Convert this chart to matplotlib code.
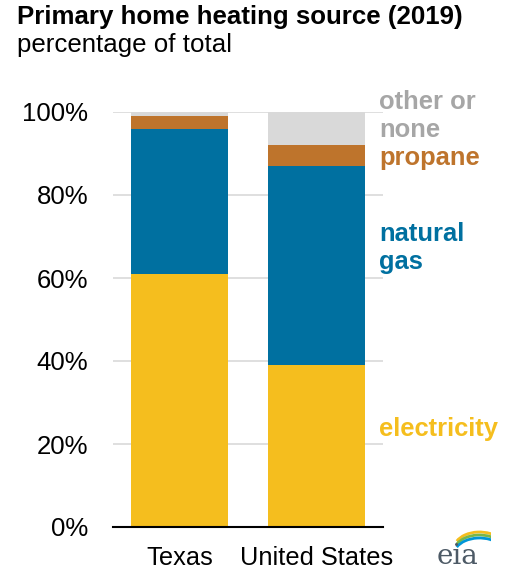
import matplotlib.pyplot as plt
from matplotlib.patches import Arc
import numpy as np

plt.rcParams["font.family"] = ["Liberation Sans", "DejaVu Sans"]

## Values (percent of homes)
regions = ["Texas", "United States"]
electricity = [61, 39]
natural_gas = [35, 48]
propane = [3, 5]
other_none = [1, 8]

series_names = ["electricity", "natural\ngas", "propane", "other or\nnone"]
series_colors = ["#F5BE1E", "#0070A0", "#BE742C", "#D9D9D9"]
label_colors = ["#F5BE1E", "#0070A0", "#BE742C", "#A6A6A6"]
yticks = [0, 20, 40, 60, 80, 100]

# Set up the figure
fig = plt.figure(figsize=(5.15, 5.77), dpi=100)
fig.patch.set_facecolor("white")
ax = fig.add_axes([113 / 515, 50 / 577, 270 / 515, 415 / 577])

# Stack the bars
x = np.arange(len(regions))
bottom = np.zeros(len(regions))
for values, color in zip([electricity, natural_gas, propane, other_none], series_colors):
    ax.bar(x, values, width=0.71, bottom=bottom, color=color, zorder=2)
    bottom += np.array(values)

# Axes styling
ax.set_xlim(-0.49, 1.49)
ax.set_ylim(0, 100)
ax.set_yticks(yticks)
ax.set_yticklabels([f"{t}%" for t in yticks], fontsize=18.5)
ax.set_xticks(x)
ax.set_xticklabels(regions, fontsize=18.3)
ax.tick_params(axis="y", length=0, pad=18)
ax.tick_params(axis="x", length=0, pad=14)
ax.grid(axis="y", color="#D9D9D9", linewidth=1.2, zorder=0)
for side in ["top", "right", "left"]:
    ax.spines[side].set_visible(False)
ax.spines["bottom"].set_linewidth(1.5)
ax.spines["bottom"].set_zorder(3)

# Series labels on the right
label_y = [429, 248, 158, 116]
for name, color, ypix in zip(series_names, label_colors, label_y):
    fig.text(379 / 515, 1 - ypix / 577, name, color=color, fontsize=18.4,
             fontweight="bold", ha="left", va="center", linespacing=1.25)

# Title and subtitle
fig.text(17 / 515, 1 - 17 / 577, "Primary home heating source (2019)",
         fontsize=18.6, fontweight="bold", ha="left", va="center")
fig.text(17 / 515, 1 - 45 / 577, "percentage of total",
         fontsize=18.6, ha="left", va="center")

# Small eia logo
fig.text(458 / 515, 1 - 557 / 577, "eia", family="DejaVu Serif", fontsize=20,
         color="#4D5A66", ha="center", va="center")
logo = fig.add_axes([445 / 515, 1 - 552 / 577, 46 / 515, 25 / 577])
logo.axis("off")
logo.set_xlim(0, 1)
logo.set_ylim(0, 1)
for dy, col in zip([0.0, -0.12, -0.24], ["#F5BE1E", "#7AB648", "#0096D7"]):
    logo.add_patch(Arc((0.75, 0.15 + dy), 1.1, 1.3, theta1=40, theta2=150,
                       color=col, linewidth=2))

fig.savefig("out.png", dpi=100, facecolor="white")
